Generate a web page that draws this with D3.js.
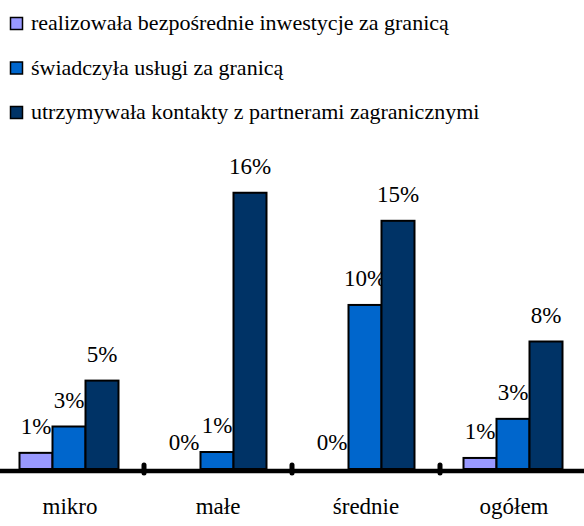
<!DOCTYPE html>
<html>
<head>
<meta charset="utf-8">
<script src="https://d3js.org/d3.v7.min.js"></script>
<style>
  body { margin: 0; background: #fff; }
</style>
</head>
<body>
<svg id="chart" width="584" height="526"></svg>
<script>
// categories and series (values in %); Polish letters written as \u escapes
var categories = ['mikro', 'ma\u0142e', '\u015brednie', 'og\u00f3\u0142em'];
var seriesNames = [
  'realizowa\u0142a bezpo\u015brednie inwestycje za granic\u0105',
  '\u015bwiadczy\u0142a us\u0142ugi za granic\u0105',
  'utrzymywa\u0142a kontakty z partnerami zagranicznymi'
];
var inwestycje = [0.95, 0, 0, 0.65];
var uslugi = [2.5, 1.0, 9.65, 2.95];
var kontakty = [5.2, 16.25, 14.6, 7.5];
var colors = ['#9999ff', '#0066cc', '#003366'];

var allSeries = [inwestycje, uslugi, kontakty];

var svg = d3.select('#chart');
var base = 469;

var x0 = d3.scaleBand().domain(categories).range([-4, 588]).padding(0);
var x1 = d3.scaleBand().domain(d3.range(allSeries.length)).range([23.5, 122.5]).padding(0);
var y = d3.scaleLinear().domain([0, 16]).range([base, base - 272]);

// legend
var leg = svg.append('g').selectAll('g')
  .data(seriesNames)
  .enter().append('g')
    .attr('transform', function(d, i) { return 'translate(0,' + (i * 44.5) + ')'; });
leg.append('rect')
  .attr('x', 10.5).attr('y', 17.5)
  .attr('width', 12).attr('height', 12)
  .attr('fill', function(d, i) { return colors[i]; })
  .attr('stroke', '#000').attr('stroke-width', 1.5);
leg.append('text')
  .attr('x', 31).attr('y', 30)
  .attr('font-family', 'Liberation Serif')
  .attr('font-size', 22)
  .text(function(d) { return d; });

// bars
var groups = svg.append('g').selectAll('g')
  .data(categories)
  .enter().append('g')
    .attr('transform', function(d) { return 'translate(' + x0(d) + ',0)'; });

groups.each(function(cat, ci) {
  var g = d3.select(this);
  allSeries.forEach(function(s, si) {
    var v = s[ci];
    if (v > 0) {
      g.append('rect')
        .attr('x', x1(si))
        .attr('y', y(v))
        .attr('width', x1.bandwidth())
        .attr('height', base - y(v))
        .attr('fill', colors[si])
        .attr('stroke', '#000')
        .attr('stroke-width', 2);
    }
    g.append('text')
      .attr('x', x1(si) + x1.bandwidth() / 2)
      .attr('y', y(v) - 19)
      .attr('text-anchor', 'middle')
      .attr('font-family', 'Liberation Serif')
      .attr('font-size', 23)
      .text(Math.round(v) + '%');
  });
});

// axis line and ticks
svg.append('line')
  .attr('x1', 0).attr('x2', 584)
  .attr('y1', 471).attr('y2', 471)
  .attr('stroke', '#000').attr('stroke-width', 4.5);

svg.append('g').selectAll('line')
  .data(categories.slice(1))
  .enter().append('line')
    .attr('x1', function(d) { return x0(d); })
    .attr('x2', function(d) { return x0(d); })
    .attr('y1', 465).attr('y2', 473)
    .attr('stroke', '#000').attr('stroke-width', 5)
    .attr('stroke-linecap', 'round');

svg.append('g').selectAll('text')
  .data(categories)
  .enter().append('text')
    .attr('x', function(d) { return x0(d) + x0.bandwidth() / 2; })
    .attr('y', 514)
    .attr('text-anchor', 'middle')
    .attr('font-family', 'Liberation Serif')
    .attr('font-size', 23)
    .text(function(d) { return d; });
</script>
</body>
</html>
